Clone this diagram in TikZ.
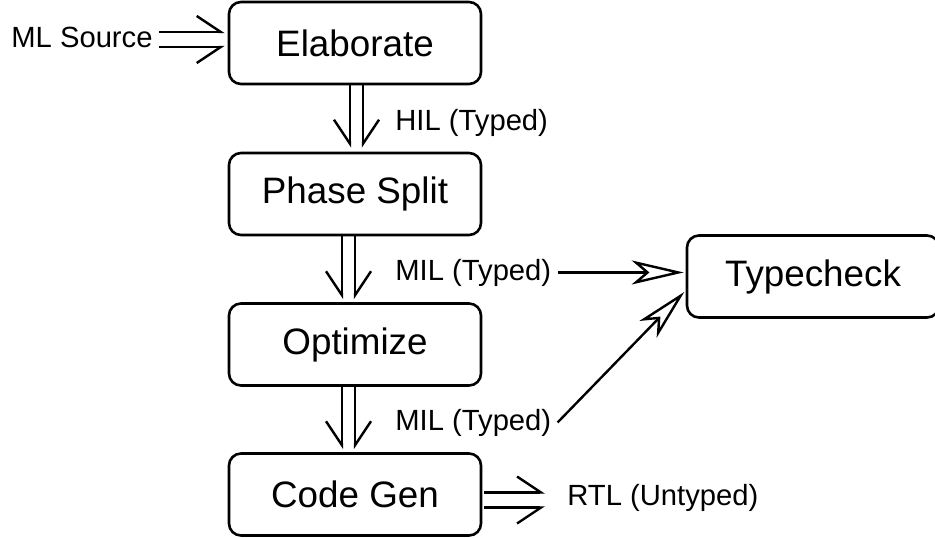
\documentclass[tikz,border=0pt]{standalone}
\usepackage{fontspec}
\setmainfont{Liberation Sans}
\usetikzlibrary{arrows.meta}
\tikzset{
	stage/.style={draw,rectangle,rounded corners=6pt,line width=1.3pt,minimum width=126pt,minimum height=41pt,font=\fontsize{18.4}{22}\selectfont},
	lbl/.style={inner sep=3pt,font=\fontsize{14.6}{17}\selectfont},
	barbl/.style={line width=1.2pt,-{Straight Barb[harpoon,length=12pt,width=16pt]}},
	barbr/.style={line width=1.2pt,-{Straight Barb[harpoon,swap,length=12pt,width=16pt]}},
	feed/.style={line width=1.2pt,-{Stealth[open,length=26pt,width=12pt,inset=7pt]}}
}
\begin{document}
\begin{tikzpicture}[x=0.5pt,y=-0.5pt]
			\clip (0,0) rectangle (935,537);
			\node[stage] (elab) at (355,43) {Elaborate};
			\node[stage] (split) at (355,194) {Phase Split};
			\node[stage] (opt) at (355,344.5) {Optimize};
			\node[stage] (gen) at (355,494.5) {Code Gen};
			\node[stage] (check) at (813,276.5) {Typecheck};
			
			\node[lbl,anchor=east] (src) at (159,37) {ML Source};
			\node[lbl,anchor=base west] (hil) at (389,130) {HIL (Typed)};
			\node[lbl,anchor=base west] (mil1) at (389,280) {MIL (Typed)};
			\node[lbl,anchor=base west] (mil2) at (389,430) {MIL (Typed)};
			\node[lbl,anchor=base west] (rtl) at (561,505) {RTL (Untyped)};
			
			\draw[barbl,shorten >=1.5pt] ([yshift=5.5pt]elab.west -| src.east) -- ([yshift=5.5pt]elab.west);
			\draw[barbr,shorten >=1.5pt] ([yshift=-2pt]elab.west -| src.east) -- ([yshift=-2pt]elab.west);
			
			\draw[barbr,shorten >=2pt] ([xshift=-2.5pt]elab.south) -- ([xshift=-2.5pt]split.north);
			\draw[barbl,shorten >=2pt] ([xshift=4pt]elab.south) -- ([xshift=4pt]split.north);
			\draw[barbr,shorten >=1.5pt] ([xshift=-6.5pt]split.south) -- ([xshift=-6.5pt]opt.north);
			\draw[barbl,shorten >=1.5pt] (split.south) -- (opt.north);
			\draw[barbr,shorten >=1.5pt] ([xshift=-6.5pt]opt.south) -- ([xshift=-6.5pt]gen.north);
			\draw[barbl,shorten >=1.5pt] (opt.south) -- (gen.north);
			
			\draw[barbl,shorten <=1pt,shorten >=8pt] ([yshift=1pt]gen.east) -- ([yshift=1pt]gen.east -| rtl.west);
			\draw[barbr,shorten <=1pt,shorten >=8pt] ([yshift=-6.5pt]gen.east) -- ([yshift=-6.5pt]gen.east -| rtl.west);
			
			\draw[feed,shorten >=1pt] (mil1.east) -- (mil1.east -| check.west);
			\draw[feed,shorten >=1pt] (mil2.east) -- ([yshift=-7pt]check.west);
		\end{tikzpicture}
\end{document}
